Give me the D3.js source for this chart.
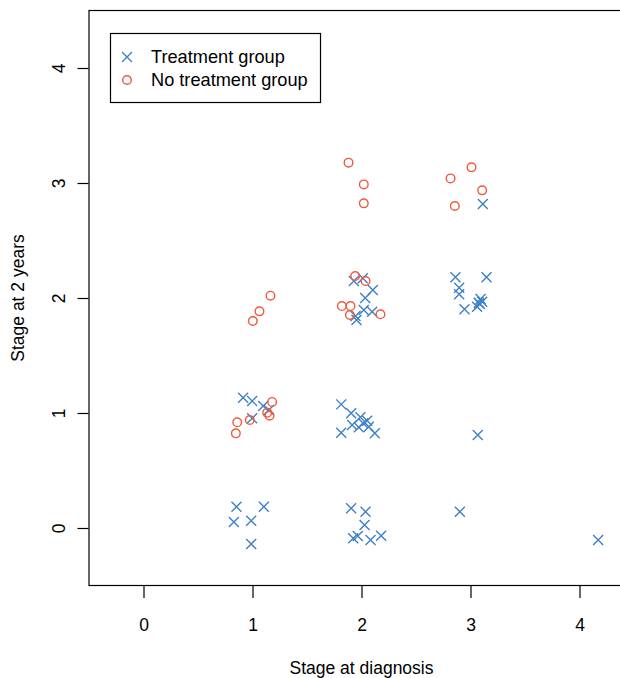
<!DOCTYPE html>
<html><head><meta charset="utf-8">
<script src="https://cdn.jsdelivr.net/npm/d3@7"></script>
<style>body{margin:0;background:#fff;} svg{display:block;}</style>
</head><body>
<script>
const treatX = [0.914,0.997,1.098,1.15,0.997,0.853,1.104,0.829,0.988,0.988,
  1.93,2.012,2.104,2.034,2.021,2.098,1.945,1.954,
  1.814,1.905,1.99,2.052,2.016,1.914,1.975,2.067,1.814,2.122,
  1.905,2.037,2.028,1.924,1.966,2.083,2.18,
  3.113,2.862,3.147,2.896,2.896,2.945,3.092,3.076,3.107,3.061,3.085,
  3.067,2.902,4.171];
const treatY = [1.133,1.104,1.061,1.026,0.954,0.185,0.185,0.052,0.064,-0.139,
  2.148,2.171,2.07,2.0,1.896,1.881,1.843,1.809,
  1.075,0.997,0.963,0.933,0.91,0.896,0.876,0.881,0.829,0.823,
  0.171,0.142,0.026,-0.09,-0.07,-0.104,-0.067,
  2.817,2.18,2.18,2.09,2.032,1.902,1.991,1.959,1.968,1.924,1.948,
  0.809,0.142,-0.104];
const noTreatX = [1.165,1.064,1.003,1.18,1.135,1.156,0.975,0.86,0.847,
  1.881,2.021,2.021,1.942,2.037,1.82,1.899,1.893,2.174,
  3.009,2.817,3.107,2.856];
const noTreatY = [2.02,1.884,1.80,1.096,1.003,0.977,0.939,0.919,0.823,
  3.177,2.988,2.823,2.191,2.148,1.93,1.93,1.852,1.858,
  3.136,3.04,2.936,2.8];
const xTicks = [0,1,2,3,4];
const yTicks = [0,1,2,3,4];
const seriesNames = ["Treatment group","No treatment group"];
const colors = ["#3f80c8","#ef5a3b"];

(function(){
const W = 620, H = 678;
const svg = d3.select("body").append("svg").attr("width",W).attr("height",H);
const pL = 89, pT = 10.5, pB = 585.5, pR = 634;
const x = d3.scaleLinear().domain([-0.5,4.5]).range([pL,pR]);
const y = d3.scaleLinear().domain([-0.5,4.5]).range([pB,pT]);
const font = "Liberation Sans, Arial, Helvetica, sans-serif";
const fs = 17.5;

svg.append("rect").attr("x",pL).attr("y",pT).attr("width",pR-pL).attr("height",pB-pT)
  .attr("fill","none").attr("stroke","#000").attr("stroke-width",1.2);

const xa = svg.append("g").attr("transform",`translate(0,${pB+0.5})`)
  .call(d3.axisBottom(x).tickValues(xTicks).tickSize(12).tickPadding(21).tickFormat(d3.format("d")));
xa.select(".domain").remove();
xa.selectAll("line").attr("stroke","#000").attr("stroke-width",1.2);
xa.selectAll("text").attr("font-family",font).attr("font-size",fs).attr("fill","#000");

const ya = svg.append("g").attr("transform",`translate(${pL-0.5},0)`)
  .call(d3.axisLeft(y).tickValues(yTicks).tickSize(11).tickPadding(0).tickFormat(d3.format("d")));
ya.select(".domain").remove();
ya.selectAll("line").attr("stroke","#000").attr("stroke-width",1.2);
ya.selectAll("text").attr("font-family",font).attr("font-size",fs).attr("fill","#000")
  .attr("text-anchor","middle").attr("x",0)
  .attr("transform","translate(-30,0) rotate(-90)").attr("dy","0.35em");

svg.append("text").attr("x",x(2)).attr("y",674).attr("text-anchor","middle")
  .attr("font-family",font).attr("font-size",fs).text("Stage at diagnosis");
svg.append("text").attr("transform",`translate(24,${(pT+pB)/2}) rotate(-90)`)
  .attr("text-anchor","middle").attr("font-family",font).attr("font-size",fs).text("Stage at 2 years");

svg.append("clipPath").attr("id","c").append("rect")
  .attr("x",pL).attr("y",pT).attr("width",pR-pL).attr("height",pB-pT);
const g = svg.append("g").attr("clip-path","url(#c)");

const s = 5;
function cross(sel, px, py){
  sel.append("path").attr("d",`M${px-s},${py-s}L${px+s},${py+s}M${px-s},${py+s}L${px+s},${py-s}`)
   .attr("stroke",colors[0]).attr("stroke-width",1.4).attr("fill","none");
}
treatX.forEach((d,i)=>cross(g, x(d), y(treatY[i])));
noTreatX.forEach((d,i)=>{
  g.append("circle").attr("cx",x(d)).attr("cy",y(noTreatY[i])).attr("r",4.3)
   .attr("fill","none").attr("stroke",colors[1]).attr("stroke-width",1.4);
});

const lg = svg.append("g");
lg.append("rect").attr("x",110.5).attr("y",33.5).attr("width",210).attr("height",69)
  .attr("fill","#fff").attr("stroke","#000").attr("stroke-width",1.2);
cross(lg,127,57);
lg.append("circle").attr("cx",127).attr("cy",80).attr("r",4.3).attr("fill","none")
  .attr("stroke",colors[1]).attr("stroke-width",1.4);
seriesNames.forEach((n,i)=>{
  lg.append("text").attr("x",151).attr("y",57+23*i).attr("dy","0.35em")
    .attr("font-family",font).attr("font-size",18.2).text(n);
});
})();
</script>
</body></html>
